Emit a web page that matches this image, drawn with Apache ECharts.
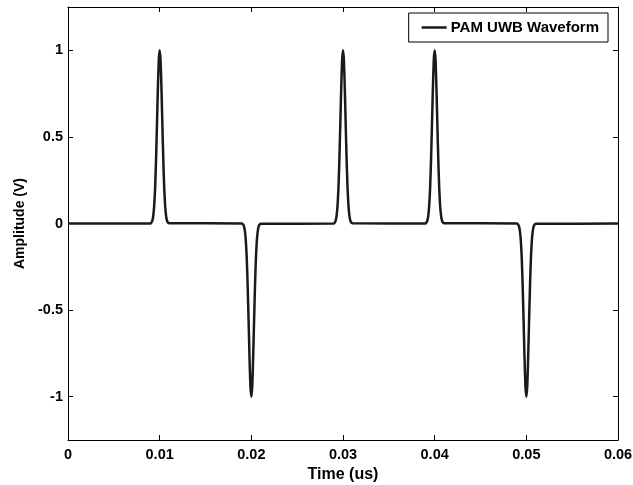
<!DOCTYPE html>
<html><head><meta charset="utf-8">
<script src="https://cdn.jsdelivr.net/npm/echarts@6/dist/echarts.min.js"></script>
<style>html,body{margin:0;padding:0;background:#fff;overflow:hidden;width:633px;height:485px}#c{width:633px;height:485px;overflow:hidden}</style>
</head><body><div id="c"></div>
<script>
// Pulse centres (us) and polarities
var pulseCenters = [0.01, 0.02, 0.03, 0.04, 0.05];
var pulseSigns = [1, -1, 1, 1, -1];
// Pulse shape: offsets from centre (us) and normalised amplitude
var shapeOffsets = [-0.0010, -0.0009, -0.0008, -0.0007, -0.0006, -0.0005, -0.0004, -0.0003, -0.0002, -0.0001, 0,
                    0.0001, 0.0002, 0.0003, 0.0004, 0.0005, 0.0006, 0.0007, 0.0008, 0.0009, 0.0010];
var shapeValues = [0.002, 0.006, 0.017, 0.044, 0.10, 0.20, 0.36, 0.56, 0.77, 0.94, 1.0,
                   0.94, 0.77, 0.56, 0.36, 0.20, 0.10, 0.044, 0.017, 0.006, 0.002];
var xTicks = [0, 0.01, 0.02, 0.03, 0.04, 0.05, 0.06];
var yTicks = [-1, -0.5, 0, 0.5, 1];

var data = [[0, 0]];
for (var p = 0; p < pulseCenters.length; p++) {
  data.push([pulseCenters[p] + shapeOffsets[0] - 0.00001, 0]);
  for (var i = 0; i < shapeOffsets.length; i++) {
    data.push([pulseCenters[p] + shapeOffsets[i], pulseSigns[p] * shapeValues[i]]);
  }
  data.push([pulseCenters[p] + shapeOffsets[shapeOffsets.length - 1] + 0.00001, 0]);
}
data.push([0.06, 0]);

var font = 'Liberation Sans, Arial, sans-serif';
var lbl = {color: '#000', fontFamily: font, fontWeight: 'bold', fontSize: 14.5};
function fmt(v) { return String(Math.round(v * 1000) / 1000); }
var tick = {show: true, inside: true, length: 5, lineStyle: {color: '#000', width: 1}};
var line = {show: true, onZero: false, lineStyle: {color: '#000', width: 1}};

var chart = echarts.init(document.getElementById('c'), null, {renderer: 'canvas', width: 633, height: 485});
chart.setOption({
  animation: false,
  backgroundColor: '#fff',
  grid: {left: 68, right: 15, top: 7, bottom: 45, show: false, containLabel: false, outerBoundsMode: 'none'},
  legend: {
    right: 25, top: 13, data: ['PAM UWB Waveform'],
    backgroundColor: '#fff', borderColor: '#000', borderWidth: 1, borderRadius: 0,
    padding: [7, 9, 7, 13], itemWidth: 25, itemHeight: 2.5, icon: 'rect', itemGap: 9,
    textStyle: {color: '#000', fontFamily: font, fontWeight: 'bold', fontSize: 15, padding: [0, 0, 0, -1]}
  },
  xAxis: [{
    type: 'value', min: xTicks[0], max: xTicks[xTicks.length - 1], interval: 0.01,
    name: 'Time (us)', nameLocation: 'middle', nameGap: 18,
    nameTextStyle: {color: '#000', fontFamily: font, fontWeight: 'bold', fontSize: 16},
    axisLine: line, axisTick: tick,
    axisLabel: Object.assign({margin: 7, formatter: fmt}, lbl),
    splitLine: {show: false}
  }, {
    type: 'value', position: 'top', min: xTicks[0], max: xTicks[xTicks.length - 1], interval: 0.01,
    axisLine: line, axisTick: tick,
    axisLabel: {show: false}, splitLine: {show: false}
  }],
  yAxis: [{
    type: 'value', min: -1.25, max: 1.25, splitNumber: 5,
    name: 'Amplitude (V)', nameLocation: 'middle', nameGap: 41, nameRotate: 90,
    nameTextStyle: {color: '#000', fontFamily: font, fontWeight: 'bold', fontSize: 14},
    axisLine: line, axisTick: tick,
    axisLabel: Object.assign({margin: 5, showMinLabel: false, showMaxLabel: false,
      formatter: function (v) { return yTicks.indexOf(Math.round(v * 100) / 100) >= 0 ? fmt(v) : ''; }}, lbl),
    splitLine: {show: false}
  }, {
    type: 'value', position: 'right', min: -1.25, max: 1.25, splitNumber: 5,
    axisLine: line, axisTick: tick,
    axisLabel: {show: false}, splitLine: {show: false}
  }],
  series: [{
    name: 'PAM UWB Waveform', type: 'line', data: data, xAxisIndex: 0, yAxisIndex: 0,
    symbol: 'none', smooth: 0.2, color: '#1a1a1a',
    lineStyle: {color: '#1a1a1a', width: 2.5}
  }]
});
</script></body></html>
